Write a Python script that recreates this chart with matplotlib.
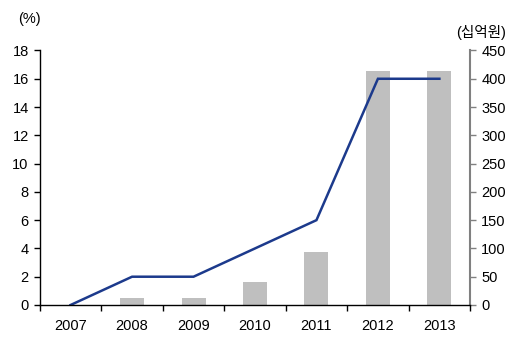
import matplotlib
matplotlib.use("Agg")
import matplotlib.pyplot as plt
import numpy as np

years = ["2007", "2008", "2009", "2010", "2011", "2012", "2013"]
share_pct = [0, 2, 2, 4, 6, 16, 16]          # line, left axis (%)
market_krw = [0, 12, 12, 40, 93, 413, 413]    # bars, right axis (십억원)
left_ticks = list(range(0, 19, 2))
right_ticks = list(range(0, 451, 50))

fam = ["Liberation Sans", "Noto Sans CJK KR", "DejaVu Sans"]
plt.rcParams["font.family"] = fam
plt.rcParams["font.size"] = 10.5

fig = plt.figure(figsize=(5.11, 3.53), dpi=100)
ax = fig.add_axes([0.078, 0.136, 0.842, 0.721])
ax2 = ax.twinx()

x = np.arange(len(years))
ax2.bar(x, market_krw, width=0.39, color="#bfbfbf", zorder=1)
ax.set_zorder(ax2.get_zorder() + 1)
ax.patch.set_visible(False)
ax.plot(x, share_pct, color="#1c3a8c", lw=1.8, solid_joinstyle="miter")

ax.set_xlim(-0.5, len(years) - 0.5)
ax.set_ylim(0, 18)
ax2.set_ylim(0, 450)
ax.set_yticks(left_ticks)
ax2.set_yticks(right_ticks)
ax.set_xticks(x)
ax.set_xticklabels(years)
ax.set_xticks(np.arange(-0.5, len(years)), minor=True)
ax.tick_params(axis="x", which="major", length=0, pad=10)
ax.tick_params(axis="x", which="minor", length=4, width=1, direction="out")
ax.tick_params(axis="y", length=4, width=1, direction="out", pad=4)
ax2.tick_params(axis="y", length=4, width=1, direction="out", color="#808080", pad=4)

for a in (ax, ax2):
    a.spines["top"].set_visible(False)
ax.spines["right"].set_visible(False)
ax2.spines["left"].set_visible(False)
ax2.spines["bottom"].set_visible(False)
ax2.spines["right"].set_color("#808080")
ax2.spines["right"].set_linewidth(1.5)
ax.spines["left"].set_linewidth(1)
ax.spines["bottom"].set_linewidth(1)

fig.text(0.035, 0.947, "(%)", fontsize=10.5, ha="left", va="center", family=fam)
fig.text(0.99, 0.907, "(십억원)", fontsize=10.5, ha="right", va="center", family=fam)

fig.savefig("out.png", dpi=100)
